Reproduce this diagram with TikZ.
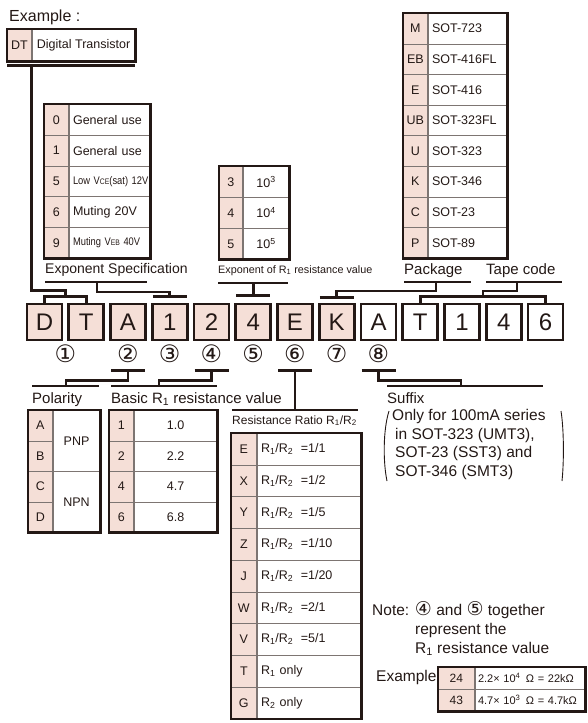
\documentclass[tikz,border=0pt]{standalone}
\usepackage{fontspec}
\setmainfont{Liberation Sans}
\newfontfamily\circfont{DejaVu Sans}
\usepackage{tikz}
\usetikzlibrary{positioning,calc}
\definecolor{ink}{RGB}{35,24,21}
\definecolor{keypink}{RGB}{245,223,215}
\definecolor{rule}{RGB}{125,117,114}
\newcommand{\rsub}[1]{\textsubscript{#1}}
\newcommand{\narrowtext}[1]{\scalebox{0.85}[1]{#1}}
\newcommand{\fs}[1]{\fontsize{#1}{#1}\selectfont}

\begin{document}
\begin{tikzpicture}[x=1pt, y=-1pt, text=ink,
  wire/.style={draw=ink, line width=2.6pt},
  frame/.style={draw=ink, line width=2.8pt},
  paren/.style={draw=ink, line width=0.9pt},
  codebox/.style={draw=ink, line width=2.8pt, minimum width=35pt, minimum height=36pt,
    inner sep=0pt, font=\fs{24}},
  circnum/.style={font=\circfont\fs{24}, inner sep=0pt},
  lbl/.style={font=\fs{15}, inner sep=0pt, anchor=base west},
  keycell/.style={draw=rule, line width=0.7pt, fill=keypink, inner sep=0pt,
    anchor=north west, font=\fs{12.5}},
  valcell/.style={draw=rule, line width=0.7pt, inner sep=0pt, anchor=north west,
    font=\fs{12.5}},
  leftval/.style={valcell, inner xsep=4pt, align=left}
]
\useasboundingbox (0,0) rectangle (587,723);

% example box
\node[lbl, font=\fs{16}] (lblex) at (9,21) {Example :};
\node[keycell, minimum width=24pt, minimum height=32pt] (dtkey) at (7,29) {DT};
\node[valcell, minimum width=103pt, minimum height=32pt] (dtval) at (dtkey.north east) {Digital Transistor};
\draw[frame] (dtkey.north west) rectangle (dtval.south east);

% code row
\foreach \ch [count=\i from 0] in {D,T,A,1,2,4,E,K}
  \node[codebox, fill=keypink] (c\i) at (44.5+41.75*\i, 322) {\ch};
\foreach \ch [count=\i from 8] in {A,T,1,4,6}
  \node[codebox] (c\i) at (44.5+41.75*\i, 322) {\ch};

% circled numbers
\node[circnum] (n1) at ($(c0)!0.5!(c1)+(0,32)$) {①};
\foreach \j/\d in {2/②,3/③,4/④,5/⑤,6/⑥,7/⑦,8/⑧}
  \node[circnum] (n\j) at ([yshift=-32pt]c\j.center) {\d};

% exponent specification table
\foreach \k/\v [count=\i from 0] in {0/General use, 1/General use,
    5/{\narrowtext{\fs{11}Low V{\fs{8}CE}(sat) 12V}}, 6/Muting 20V,
    9/{\narrowtext{\fs{11}Muting V{\fs{8}EB} 40V}}} {
  \node[keycell, minimum width=24pt, minimum height=30.8pt] (sk\i) at (44,104+30.8*\i) {\k};
  \node[leftval, text width=73pt, minimum height=30.8pt] (sv\i) at (sk\i.north east) {\v};
}
\draw[frame] (sk0.north west) rectangle (sv4.south east);

% exponent of R1 table
\foreach \k [count=\i from 0] in {3,4,5} {
  \node[keycell, minimum width=23pt, minimum height=31pt] (ek\i) at (219,166+31*\i) {\k};
  \node[valcell, minimum width=46pt, minimum height=31pt] (ev\i) at (ek\i.north east) {10\textsuperscript{\k}};
}
\draw[frame] (ek0.north west) rectangle (ev2.south east);

% package table
\foreach \k/\v [count=\i from 0] in {M/SOT-723, EB/SOT-416FL, E/SOT-416, UB/SOT-323FL,
    U/SOT-323, K/SOT-346, C/SOT-23, P/SOT-89} {
  \node[keycell, minimum width=24pt, minimum height=30.6pt] (pk\i) at (403,13+30.6*\i) {\k};
  \node[leftval, text width=71pt, minimum height=30.6pt] (pv\i) at (pk\i.north east) {\v};
}
\draw[frame] (pk0.north west) rectangle (pv7.south east);

% upper labels
\node[lbl, font=\fs{14}] (lblspec) at (45,273) {Exponent Specification};
\node[lbl, font=\fs{10.8}] (lblexp) at (218,273) {Exponent of R\rsub{1} resistance value};
\node[lbl] (lblpkg) at (404,274) {Package};
\node[lbl] (lbltape) at (486,274) {Tape code};

% upper connectors
\draw[wire] ([yshift=-4pt]dtkey.south west) -- ([yshift=-4pt]dtval.south east);
\draw[wire] ([yshift=-4pt]dtkey.south east) |- ($(c0.north)!0.5!(c1.north)+(0,-12)$) -- ++(0,6);
\draw[wire] (c0.north) -- ++(0,-6) -| (c1.north);

\coordinate (specbar) at ([yshift=-9pt]lblspec.base west);
\draw[wire] (specbar) -- ++(102,0);
\draw[wire] ([xshift=52pt]specbar) -- ++(0,10) -| ([yshift=6pt]c3.north);
\draw[wire] ([shift={(-17pt,6pt)}]c3.north) -- ([shift={(17pt,6pt)}]c3.north);

\coordinate (expbar) at ([yshift=-10pt]lblexp.base west);
\draw[wire] (expbar) -- ++(70,0);
\draw[wire] (c5.north |- expbar) -- ([yshift=7pt]c5.north);
\draw[wire] ([shift={(-17pt,7pt)}]c5.north) -- ([shift={(17pt,7pt)}]c5.north);

\coordinate (pkgbar) at ([yshift=-8pt]lblpkg.base west);
\draw[wire] (pkgbar) -- ++(67,0);
\draw[wire] ([xshift=32pt]pkgbar) -- ++(0,9) -| ([yshift=5pt]c7.north);
\draw[wire] ([shift={(-17pt,5pt)}]c7.north) -- ([shift={(17pt,5pt)}]c7.north);

\coordinate (tapebar) at ([yshift=-8pt]lbltape.base west);
\draw[wire] (tapebar) -- ++(76,0);
\draw[wire] ([xshift=31pt]tapebar) -- ++(0,9) -| ($(c9.north)!0.5!(c12.north)+(0,-6)$);
\draw[wire] (c9.north) -- ++(0,-6) -| (c12.north);

% lower labels
\node[lbl] (lblpol) at (32,403) {Polarity};
\node[lbl] (lblbasic) at (111,403) {Basic R\rsub{1} resistance value};
\node[lbl, font=\fs{12}] (lblratio) at (232,424) {Resistance Ratio R\rsub{1}/R\rsub{2}};
\node[lbl] (lblsuffix) at (387,403) {Suffix};

% lower connectors
\foreach \j in {2,4,6,8}
  \draw[wire] ([shift={(-17pt,-29pt)}]c\j.south) -- ([shift={(17pt,-29pt)}]c\j.south);

\coordinate (polbar) at ([yshift=17pt]lblpol.base west);
\draw[wire] (polbar) -- ++(67,0);
\draw[wire] ([yshift=-29pt]c2.south) -- ++(0,10) -| ([xshift=34pt]polbar);

\coordinate (basicbar) at ([yshift=17pt]lblbasic.base west);
\draw[wire] (basicbar) -- ++(106,0);
\draw[wire] ([yshift=-29pt]c4.south) -- ++(0,10) -| ([xshift=48pt]basicbar);

\coordinate (ratiobar) at ([yshift=14pt]lblratio.base west);
\draw[wire] (ratiobar) -- ++(126,0);
\draw[wire] ([yshift=-29pt]c6.south) -- (c6.south |- ratiobar);

\coordinate (suffixbar) at ([yshift=17pt]lblsuffix.base west);
\draw[wire] (suffixbar) -- ++(156,0);
\draw[wire] ([yshift=-29pt]c8.south) -- ++(0,10) -| ([xshift=74pt]suffixbar);

% polarity table
\foreach \k [count=\i from 0] in {A,B,C,D}
  \node[keycell, minimum width=24pt, minimum height=30.5pt] (plk\i) at (28,410+30.5*\i) {\k};
\node[valcell, minimum width=47pt, minimum height=61pt] (pnp) at (plk0.north east) {PNP};
\node[valcell, minimum width=47pt, minimum height=61pt] (npn) at (plk2.north east) {NPN};
\draw[frame] (plk0.north west) rectangle (npn.south east);

% basic R1 table
\foreach \k/\v [count=\i from 0] in {1/1.0, 2/2.2, 4/4.7, 6/6.8} {
  \node[keycell, minimum width=24pt, minimum height=30.5pt] (bk\i) at (109,410+30.5*\i) {\k};
  \node[valcell, minimum width=83pt, minimum height=30.5pt] (bv\i) at (bk\i.north east) {\v};
}
\draw[frame] (bk0.north west) rectangle (bv3.south east);

% resistance ratio table
\foreach \k/\n/\d [count=\i from 0] in {E/1/1, X/1/2, Y/1/5, Z/1/10, J/1/20, W/2/1, V/5/1} {
  \node[keycell, minimum width=25pt, minimum height=31.7pt] (rk\i) at (231,433+31.7*\i) {\k};
  \node[leftval, text width=96pt, minimum height=31.7pt] (rv\i) at (rk\i.north east) {R\rsub{1}/R\rsub{2}\hspace{0.6em}=\n/\d};
}
\foreach \k/\v [count=\i from 7] in {T/1, G/2} {
  \node[keycell, minimum width=25pt, minimum height=31.7pt] (rk\i) at (231,433+31.7*\i) {\k};
  \node[leftval, text width=96pt, minimum height=31.7pt] (rv\i) at (rk\i.north east) {R\rsub{\v} only};
}
\draw[frame] (rk0.north west) rectangle (rv8.south east);

% suffix
\node[font=\fontsize{15.5}{18.7}\selectfont, align=left, anchor=north west, inner sep=0pt]
  (suffixtext) at (392,409) {Only for 100mA series\\ \hspace*{3pt}in SOT-323 (UMT3),\\
  \hspace*{3pt}SOT-23 (SST3) and\\ \hspace*{3pt}SOT-346 (SMT3)};
\draw[paren] (389,411) .. controls (383,430) and (383,462) .. (387,481);
\draw[paren] (561,411) .. controls (564,430) and (564,462) .. (562,481);

% note
\node[lbl, font=\fs{15.5}] (note1) at (372,615) {Note: {\circfont\fs{19}④} and {\circfont\fs{19}⑤} together};
\node[lbl, font=\fs{15.5}] (note2) at (415,634) {represent the};
\node[lbl, font=\fs{15.5}] (note3) at (415,653) {R\rsub{1} resistance value};

% example table
\node[lbl, font=\fs{15.5}] (lblexample) at (376,681) {Example};
\node[keycell, minimum width=36pt, minimum height=21.5pt, font=\fs{12}] (xk0) at (438,667) {24};
\node[leftval, inner xsep=3pt, text width=104pt, minimum height=21.5pt, font=\fs{11}] (xv0) at (xk0.north east)
  {2.2× 10\textsuperscript{4}\hspace{0.5em}Ω = 22kΩ};
\node[keycell, minimum width=36pt, minimum height=21.5pt, font=\fs{12}] (xk1) at (xk0.south west) {43};
\node[leftval, inner xsep=3pt, text width=104pt, minimum height=21.5pt, font=\fs{11}] (xv1) at (xk1.north east)
  {4.7× 10\textsuperscript{3}\hspace{0.5em}Ω = 4.7kΩ};
\draw[frame] (xk0.north west) rectangle (xv1.south east);
\end{tikzpicture}
\end{document}
